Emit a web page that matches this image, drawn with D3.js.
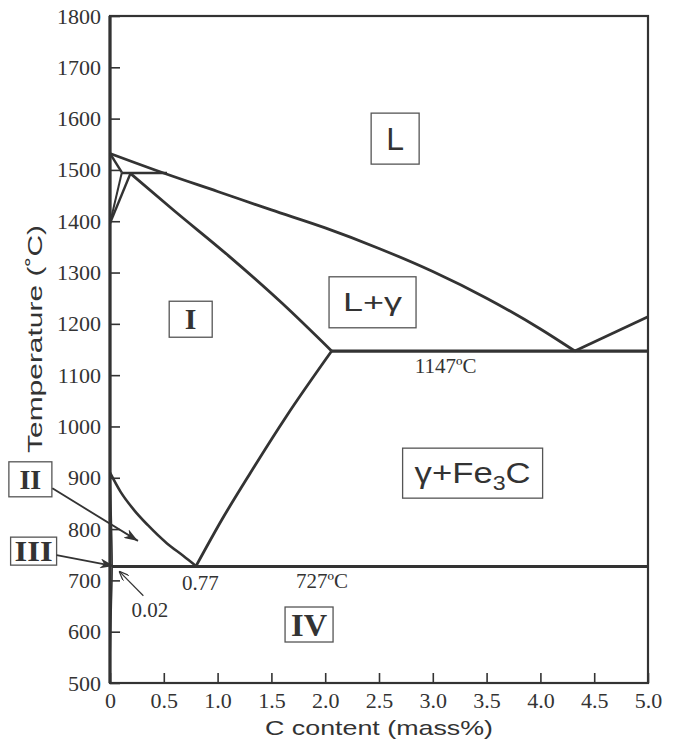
<!DOCTYPE html>
<html>
<head>
<meta charset="utf-8">
<script src="https://cdn.jsdelivr.net/npm/d3@7/dist/d3.min.js"></script>
<style>
  body { margin: 0; background: #ffffff; }
  svg { display: block; }
</style>
</head>
<body>
<script>

// Phase boundaries, each point is [C content (mass%), temperature (°C)]
const liquidus = [[0, 1532], [0.51, 1493], [1.0, 1458], [1.5, 1422], [2.0, 1387], [2.5, 1347], [3.0, 1302], [3.5, 1250], [4.0, 1190], [4.32, 1147]];
const cementiteLiquidus = [[4.32, 1147], [5.0, 1214]];
const deltaSolidus = [[0, 1532], [0.11, 1495]];
const deltaGammaLow = [[0, 1396], [0.11, 1495]];
const deltaGammaHigh = [[0, 1396], [0.19, 1493]];
const peritectic = [[0.11, 1494], [0.53, 1494]];
const gammaSolidus = [[0.19, 1493], [0.6, 1420], [1.1, 1333], [1.6, 1240], [2.06, 1147]];
const eutectic = [[2.06, 1147], [5.0, 1147]];
const acm = [[0.8, 728], [1.05, 822], [1.3, 908], [1.64, 1020], [2.06, 1147]];
const a3 = [[0, 910], [0.1, 872], [0.22, 838], [0.35, 808], [0.53, 772], [0.68, 748], [0.8, 728]];
const ferriteSolvus = [[0, 910], [0.02, 727], [0.012, 650], [0.004, 580], [0, 540]];
const eutectoid = [[0.02, 727], [5.0, 727]];

// Axis ticks and labels
const xTicks = [0, 0.5, 1.0, 1.5, 2.0, 2.5, 3.0, 3.5, 4.0, 4.5, 5.0];
const xTickLabels = ["0", "0.5", "1.0", "1.5", "2.0", "2.5", "3.0", "3.5", "4.0", "4.5", "5.0"];
const yTicks = [500, 600, 700, 800, 900, 1000, 1100, 1200, 1300, 1400, 1500, 1600, 1700, 1800];

// Texts on the chart
const regionNames = ["L", "L+γ", "γ+Fe3C", "I", "II", "III", "IV"];
const isothermLabels = ["1147ºC", "727ºC"];
const compositionLabels = ["0.77", "0.02"];
const xTitle = "C content (mass%)";
const yTitle = "Temperature (˚C)";


// Size of the svg
let width = 674;
let height = 745;

// Plot area edges
let plotLeft = 110, plotRight = 648, plotTop = 16, plotBottom = 683;

const ink = "#333333";

const svg = d3.select("body").append("svg")
    .attr("width", width)
    .attr("height", height)
    .attr("viewBox", [0, 0, width, height]);

// Scales
let x = d3.scaleLinear().domain([0, 5]).range([plotLeft, plotRight]);
let y = d3.scaleLinear().domain([500, 1800]).range([plotBottom, plotTop]);

// Arrow head markers
const defs = svg.append("defs");
defs.append("marker")
    .attr("id", "head")
    .attr("markerUnits", "userSpaceOnUse")
    .attr("viewBox", "0 0 14 10")
    .attr("refX", 14).attr("refY", 5)
    .attr("markerWidth", 14).attr("markerHeight", 10)
    .attr("orient", "auto")
  .append("path")
    .attr("d", "M0,0 L14,5 L0,10 L4,5 Z")
    .attr("fill", ink);
defs.append("marker")
    .attr("id", "thinhead")
    .attr("markerUnits", "userSpaceOnUse")
    .attr("viewBox", "0 0 10 8")
    .attr("refX", 10).attr("refY", 4)
    .attr("markerWidth", 10).attr("markerHeight", 8)
    .attr("orient", "auto")
  .append("path")
    .attr("d", "M0,0 L10,4 L0,8")
    .attr("fill", "none")
    .attr("stroke", ink)
    .attr("stroke-width", 1.2);

// Axes with inward ticks
let xAxis = d3.axisBottom(x).tickValues(xTicks).tickSize(-10).tickPadding(9)
    .tickFormat((d, i) => xTickLabels[i]);
let yAxis = d3.axisLeft(y).tickValues(yTicks).tickSize(-10).tickPadding(9)
    .tickFormat(d => String(d));

let xAxisRef = svg.append("g")
    .attr("transform", `translate(0, ${plotBottom})`)
    .call(xAxis);
let yAxisRef = svg.append("g")
    .attr("transform", `translate(${plotLeft}, 0)`)
    .call(yAxis);

[xAxisRef, yAxisRef].forEach(g => {
    g.select(".domain").remove();
    g.selectAll(".tick line").attr("stroke", ink).attr("stroke-width", 1.6);
    g.selectAll(".tick text")
        .attr("fill", ink)
        .style("font-family", "'Liberation Serif', 'DejaVu Serif', serif")
        .style("font-size", "22px");
});

// Frame around the plot
svg.append("rect")
    .attr("x", plotLeft).attr("y", plotTop)
    .attr("width", plotRight - plotLeft).attr("height", plotBottom - plotTop)
    .attr("fill", "none")
    .attr("stroke", ink)
    .attr("stroke-width", 2.2);
svg.append("line")
    .attr("x1", plotLeft).attr("x2", plotLeft)
    .attr("y1", plotTop).attr("y2", plotBottom)
    .attr("stroke", ink).attr("stroke-width", 3.2);

// Line generators
let smooth = d3.line().x(p => x(p[0])).y(p => y(p[1])).curve(d3.curveMonotoneX);
let straight = d3.line().x(p => x(p[0])).y(p => y(p[1]));
let rounded = d3.line().x(p => x(p[0])).y(p => y(p[1])).curve(d3.curveCatmullRom);

const boundaries = [
    {pts: liquidus, gen: smooth, w: 2.8},
    {pts: cementiteLiquidus, gen: straight, w: 2.8},
    {pts: deltaSolidus, gen: straight, w: 2.4},
    {pts: deltaGammaLow, gen: straight, w: 2.0},
    {pts: deltaGammaHigh, gen: straight, w: 2.4},
    {pts: peritectic, gen: straight, w: 2.4},
    {pts: gammaSolidus, gen: smooth, w: 2.8},
    {pts: eutectic, gen: straight, w: 3.2},
    {pts: acm, gen: smooth, w: 2.8},
    {pts: a3, gen: smooth, w: 2.6},
    {pts: ferriteSolvus, gen: rounded, w: 1.6},
    {pts: eutectoid, gen: straight, w: 3.0}
];

svg.append("g")
    .selectAll("path")
    .data(boundaries)
    .enter()
    .append("path")
    .attr("d", b => b.gen(b.pts))
    .attr("fill", "none")
    .attr("stroke", ink)
    .attr("stroke-width", b => b.w)
    .attr("stroke-linejoin", "round");

// Boxed region labels: centre in data units, box size in px
const sans = "'Liberation Sans', Arial, sans-serif";
const serif = "'Liberation Serif', 'Times New Roman', serif";
const boxes = [
    {c: 2.65, t: 1561, w: 48, h: 51, font: sans, size: 32, bold: false, len: null, base: 11},
    {c: 2.44, t: 1242, w: 87, h: 51, font: sans, size: 26, bold: false, len: 59, base: 9},
    {c: 3.37, t: 909, w: 140, h: 50, font: sans, size: 30, bold: false, len: 116, base: 10},
    {c: 0.75, t: 1209, w: 43, h: 36, font: serif, size: 30, bold: true, len: null, base: 10},
    {c: -0.74, t: 897, w: 43, h: 35, font: serif, size: 28, bold: true, len: null, base: 10},
    {c: -0.71, t: 757, w: 46, h: 28, font: serif, size: 30, bold: true, len: 38, base: 10},
    {c: 1.85, t: 614, w: 48, h: 35, font: serif, size: 31, bold: true, len: 36, base: 11}
];

const boxG = svg.append("g");
boxes.forEach((b, i) => {
    let cx = x(b.c), cy = y(b.t);
    boxG.append("rect")
        .attr("x", cx - b.w / 2).attr("y", cy - b.h / 2)
        .attr("width", b.w).attr("height", b.h)
        .attr("fill", "#ffffff")
        .attr("stroke", "#555555")
        .attr("stroke-width", 1.3);
    let t = boxG.append("text")
        .attr("x", cx).attr("y", cy + b.base)
        .attr("text-anchor", "middle")
        .attr("fill", ink)
        .style("font-family", b.font)
        .style("font-size", b.size + "px")
        .style("font-weight", b.bold ? "bold" : "normal");
    if (b.len) t.attr("textLength", b.len).attr("lengthAdjust", "spacingAndGlyphs");
    let name = regionNames[i];
    if (name.includes("Fe3C")) {
        t.append("tspan").text("γ+Fe");
        t.append("tspan").attr("dy", 7).style("font-size", "20px").text("3");
        t.append("tspan").attr("dy", -7).text("C");
    } else {
        t.text(name);
    }
});

// Isotherm and composition labels
const smallLabels = [
    {text: isothermLabels[0], c: 3.12, t: 1147, dy: 22},
    {text: isothermLabels[1], c: 1.97, t: 727, dy: 21},
    {text: compositionLabels[0], c: 0.84, t: 727, dy: 23},
    {text: compositionLabels[1], c: 0.37, t: 727, dy: 50}
];
svg.append("g")
    .selectAll("text")
    .data(smallLabels)
    .enter()
    .append("text")
    .attr("x", d => x(d.c))
    .attr("y", d => y(d.t) + d.dy)
    .attr("text-anchor", "middle")
    .attr("fill", ink)
    .style("font-family", serif)
    .style("font-size", "21px")
    .text(d => d.text);

// Arrows from labels II, III and 0.02
const arrows = [
    {from: [x(-0.74) + 22, y(897) + 9], to: [x(0.26), y(777)], w: 1.8, head: "head"},
    {from: [x(-0.71) + 23, y(757) + 4], to: [x(0.037), y(728)], w: 1.8, head: "head"},
    {from: [x(0.31), y(670)], to: [x(0.084), y(718)], w: 1.2, head: "thinhead"}
];
svg.append("g")
    .selectAll("line")
    .data(arrows)
    .enter()
    .append("line")
    .attr("x1", a => a.from[0]).attr("y1", a => a.from[1])
    .attr("x2", a => a.to[0]).attr("y2", a => a.to[1])
    .attr("stroke", ink)
    .attr("stroke-width", a => a.w)
    .attr("marker-end", a => `url(#${a.head})`);

// Axis titles
svg.append("text")
    .attr("x", (plotLeft + plotRight) / 2)
    .attr("y", 735)
    .attr("text-anchor", "middle")
    .attr("fill", ink)
    .attr("textLength", 228)
    .attr("lengthAdjust", "spacingAndGlyphs")
    .style("font-family", sans)
    .style("font-size", "21px")
    .text(xTitle);

svg.append("text")
    .attr("transform", "translate(42, 339) rotate(-90)")
    .attr("text-anchor", "middle")
    .attr("fill", ink)
    .attr("textLength", 228)
    .attr("lengthAdjust", "spacingAndGlyphs")
    .style("font-family", sans)
    .style("font-size", "21px")
    .text(yTitle);

</script>
</body>
</html>
